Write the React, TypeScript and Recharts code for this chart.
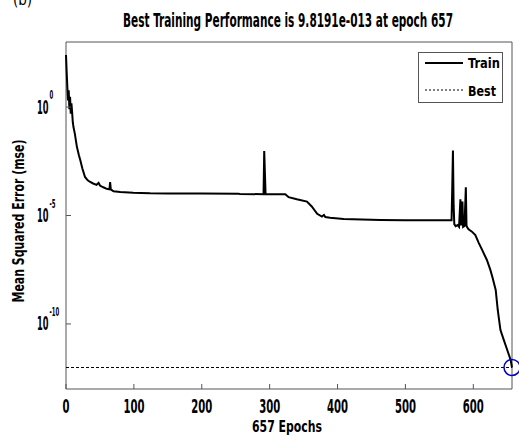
import React from "react";
import {
  ComposedChart,
  Line,
  XAxis,
  YAxis,
  ReferenceLine,
  ReferenceDot,
  ReferenceArea,
  Legend,
} from "recharts";

const TITLE = "Best Training Performance is 9.8191e-013 at epoch 657";
const X_LABEL = "657 Epochs";
const Y_LABEL = "Mean Squared Error  (mse)";
const PANEL_TAG = "(b)";

const xTicks = [0, 100, 200, 300, 400, 500, 600];
const yTicks = [1e-10, 1e-5, 1];
const legendNames = ["Train", "Best"];

const bestEpoch = 657;
const bestPerf = 9.8191e-13;

// training curve (epoch, mse)
const epochs = [
  0, 1, 2, 3, 4, 5, 6, 7, 8, 9, 10, 11, 13, 16, 19, 21, 24, 28, 32, 35, 40, 45, 48, 50, 55, 60,
  64, 65, 66, 70, 80, 99, 110, 124, 150, 200, 254, 256, 291, 292, 293, 294, 323, 328, 340, 355,
  362, 370, 377, 380, 382, 389, 409, 463, 500, 568, 569, 570, 571, 572, 574, 577, 579, 581, 582,
  584, 585, 587, 589, 590, 591, 593, 598, 603, 608, 613, 620, 625, 628, 633, 636, 640, 645, 650,
  655, 657,
];
const trainMse = [
  2.5e2, 4e1, 8e0, 2e0, 6e0, 8e-1, 3e0, 5e-1, 1.5e0, 6e-1, 2e-1, 1.2e-1, 6e-2, 1.5e-2, 6e-3,
  3.6e-3, 1.5e-3, 6e-4, 4.2e-4, 3.6e-4, 3.0e-4, 2.6e-4, 3.2e-4, 2.4e-4, 2.0e-4, 1.7e-4, 1.6e-4,
  3.5e-4, 1.6e-4, 1.3e-4, 1.2e-4, 1.12e-4, 1.1e-4, 1.05e-4, 1.04e-4, 1.03e-4, 1.02e-4, 9.8e-5,
  9.6e-5, 9.5e-3, 9.0e-4, 9.6e-5, 9.5e-5, 7e-5, 5.6e-5, 4.4e-5, 2.6e-5, 1.2e-5, 8.9e-6, 1.05e-5,
  8.5e-6, 7.9e-6, 6.9e-6, 6.2e-6, 6.1e-6, 6.0e-6, 2.1e-4, 9.8e-3, 3e-5, 4e-6, 3.2e-6, 3.6e-6,
  3e-6, 5.6e-5, 3.5e-6, 4.4e-5, 3.0e-6, 3.3e-6, 2.0e-4, 3.4e-6, 2.9e-6, 2.3e-6, 1.8e-6, 1.26e-6,
  5.5e-7, 2.6e-7, 8.9e-8, 3.2e-8, 1.5e-8, 3.7e-9, 4.4e-10, 5.2e-11, 1.8e-11, 6.3e-12, 2.2e-12,
  9.8191e-13,
];

const data = epochs.map((e, i) => ({ epoch: e, train: trainMse[i] }));

const W = 519;
const H = 436;
const PLOT_LEFT = 66;
const PLOT_BOTTOM = 389;
const FONT = "'DejaVu Sans Condensed', 'DejaVu Sans', sans-serif";
const AXIS = "#555";

function XTick(props: any) {
  const { x, payload } = props;
  const s = String(payload.value);
  return (
    <g>
      <line x1={x} x2={x} y1={PLOT_BOTTOM} y2={PLOT_BOTTOM - 5} stroke={AXIS} />
      <text
        x={x}
        y={413}
        textAnchor="middle"
        fontFamily={FONT}
        fontWeight="bold"
        fontSize={19}
        textLength={7 * s.length}
        lengthAdjust="spacingAndGlyphs"
        fill="#000"
      >
        {s}
      </text>
    </g>
  );
}

// 10^n label, squeezed sideways like the narrow MATLAB font
function YTick(props: any) {
  const { y, payload } = props;
  const exp = String(Math.round(Math.log10(payload.value)));
  return (
    <g>
      <line x1={PLOT_LEFT} x2={PLOT_LEFT + 5} y1={y} y2={y} stroke={AXIS} />
      <g transform={`translate(37 ${y}) scale(0.46 1)`}>
        <text x={0} y={6.5} fontFamily={FONT} fontWeight="bold" fontSize={20} fill="#000">
          10
          <tspan dx={2} dy={-14.5} fontSize={13}>
            {exp}
          </tspan>
        </text>
      </g>
    </g>
  );
}

function XLabel() {
  return (
    <text
      x={287}
      y={432}
      textAnchor="middle"
      fontFamily={FONT}
      fontWeight="bold"
      fontSize={15}
      textLength={70}
      lengthAdjust="spacingAndGlyphs"
      fill="#000"
    >
      {X_LABEL}
    </text>
  );
}

function YLabel() {
  return (
    <text
      x={24}
      y={221}
      transform="rotate(-90 24 221)"
      textAnchor="middle"
      fontFamily={FONT}
      fontWeight="bold"
      fontSize={15}
      textLength={163}
      lengthAdjust="spacingAndGlyphs"
      fill="#000"
    >
      {Y_LABEL}
    </text>
  );
}

function LegendBox() {
  const textProps = {
    fontFamily: FONT,
    fontWeight: "bold" as const,
    fontSize: 14,
    lengthAdjust: "spacingAndGlyphs" as const,
    fill: "#000",
  };
  return (
    <svg width={85} height={51} style={{ display: "block" }}>
      <rect x={0.5} y={0.5} width={84} height={50} fill="#fff" stroke={AXIS} />
      <line x1={7} x2={45} y1={11} y2={11} stroke="#000" strokeWidth={2} />
      <text x={50} y={16} textLength={32} {...textProps}>
        {legendNames[0]}
      </text>
      <line x1={7} x2={45} y1={38} y2={38} stroke="#000" strokeWidth={1} strokeDasharray="2 2" />
      <text x={50} y={44} textLength={28} {...textProps}>
        {legendNames[1]}
      </text>
    </svg>
  );
}

export default function App() {
  return (
    <div style={{ position: "absolute", left: 0, top: 0, width: W, height: H, background: "#fff" }}>
      <ComposedChart width={W} height={H} data={data} margin={{ top: 42, right: 7, bottom: 0, left: 0 }}>
        <XAxis
          dataKey="epoch"
          type="number"
          domain={[0, 657]}
          ticks={xTicks}
          height={47}
          tickLine={false}
          axisLine={false}
          tick={<XTick />}
          interval={0}
          label={<XLabel />}
        />
        <YAxis
          type="number"
          scale="log"
          domain={[1e-13, 1e3]}
          allowDataOverflow
          ticks={yTicks}
          width={66}
          tickLine={false}
          axisLine={false}
          tick={<YTick />}
          interval={0}
          label={<YLabel />}
        />
        <ReferenceArea x1={0} x2={657} y1={1e-13} y2={1e3} fill="none" stroke={AXIS} strokeWidth={1} />
        <ReferenceLine y={bestPerf} stroke="#000" strokeWidth={1} strokeDasharray="3 2" />
        <Line
          type="linear"
          dataKey="train"
          name={legendNames[0]}
          stroke="#000"
          strokeWidth={2}
          dot={false}
          isAnimationActive={false}
        />
        <ReferenceDot
          x={bestEpoch}
          y={bestPerf}
          r={8}
          fill="none"
          stroke="#0000c8"
          strokeWidth={1.5}
          ifOverflow="visible"
        />
        <Legend
          layout="vertical"
          align="center"
          verticalAlign="middle"
          wrapperStyle={{ position: "absolute", left: 418, top: 52, width: 85, height: 51 }}
          content={() => <LegendBox />}
        />
      </ComposedChart>
      <svg
        width={W}
        height={44}
        style={{ position: "absolute", left: 0, top: 0, pointerEvents: "none" }}
      >
        <text x={13} y={5} fontFamily={FONT} fontSize={15} fill="#000">
          {PANEL_TAG}
        </text>
        <g transform="translate(288 27) scale(0.6 1)">
          <text
            x={0}
            y={0}
            textAnchor="middle"
            fontFamily={FONT}
            fontWeight="bold"
            fontSize={19}
            textLength={550}
            lengthAdjust="spacingAndGlyphs"
            fill="#000"
          >
            {TITLE}
          </text>
        </g>
      </svg>
    </div>
  );
}
